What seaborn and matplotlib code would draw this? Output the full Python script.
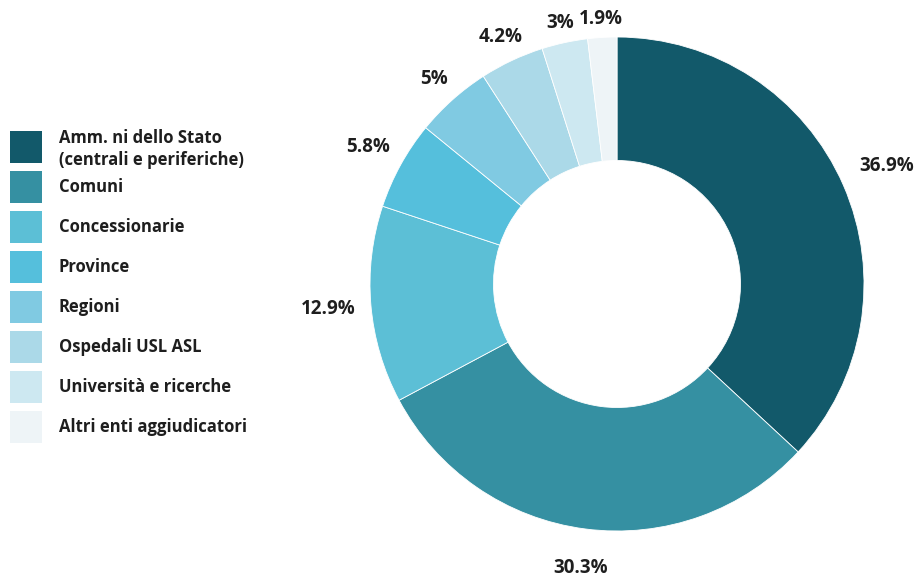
import matplotlib
matplotlib.use("Agg")
import matplotlib.pyplot as plt
from matplotlib.patches import Rectangle
import numpy as np
import seaborn as sns

categories = [
    "Amm. ni dello Stato\n(centrali e periferiche)",
    "Comuni",
    "Concessionarie",
    "Province",
    "Regioni",
    "Ospedali USL ASL",
    "Università e ricerche",
    "Altri enti aggiudicatori",
]
shares = [36.9, 30.3, 12.9, 5.8, 5.0, 4.2, 3.0, 1.9]
share_labels = ["36.9%", "30.3%", "12.9%", "5.8%", "5%", "4.2%", "3%", "1.9%"]
colors = ["#12596a", "#3590a2", "#5cbfd6", "#55bfdc", "#80cae2",
          "#abd9e8", "#cde8f1", "#eef4f7"]
# radial distance of each percentage label, in units of the outer radius
label_dist = [1.19, 1.16, 1.175, 1.15, 1.11, 1.105, 1.08, 1.073]

sns.set_theme(style="white")
plt.rcParams["font.family"] = ["Open Sans", "DejaVu Sans"]

W, H, DPI = 916, 578, 100
fig = plt.figure(figsize=(W / DPI, H / DPI), dpi=DPI)
fig.patch.set_facecolor("white")

# donut axes: one data unit equals the outer radius in pixels
cx, cy, R = 617, 284, 247
ax = fig.add_axes([0, 0, 1, 1])
wedges, _ = ax.pie(
    shares,
    colors=colors,
    startangle=90,
    counterclock=False,
    radius=1.0,
    wedgeprops=dict(width=0.5, edgecolor="white", linewidth=0.6),
)
for w, lab, d in zip(wedges, share_labels, label_dist):
    mid = np.deg2rad((w.theta1 + w.theta2) / 2)
    ax.text(d * np.cos(mid), d * np.sin(mid), lab, ha="center", va="center",
            fontsize=13.5, fontweight="bold", color="#1e1e1e")
ax.set_aspect("auto")
ax.set_xlim(-cx / R, (W - cx) / R)
ax.set_ylim(-(H - cy) / R, cy / R)
ax.axis("off")

# legend column on the left
for i, (name, col) in enumerate(zip(categories, colors)):
    top = 131 + 40 * i
    fig.patches.append(Rectangle((10 / W, 1 - (top + 32) / H), 32 / W, 32 / H,
                                 transform=fig.transFigure, facecolor=col,
                                 edgecolor="none"))
    yc = top + 16 + (2 if "\n" in name else 0)
    fig.text(59 / W, 1 - yc / H, name, ha="left", va="center",
             fontsize=12, fontweight="bold", color="#1e1e1e",
             linespacing=1.35)

fig.savefig("out.png", dpi=DPI, facecolor="white")
